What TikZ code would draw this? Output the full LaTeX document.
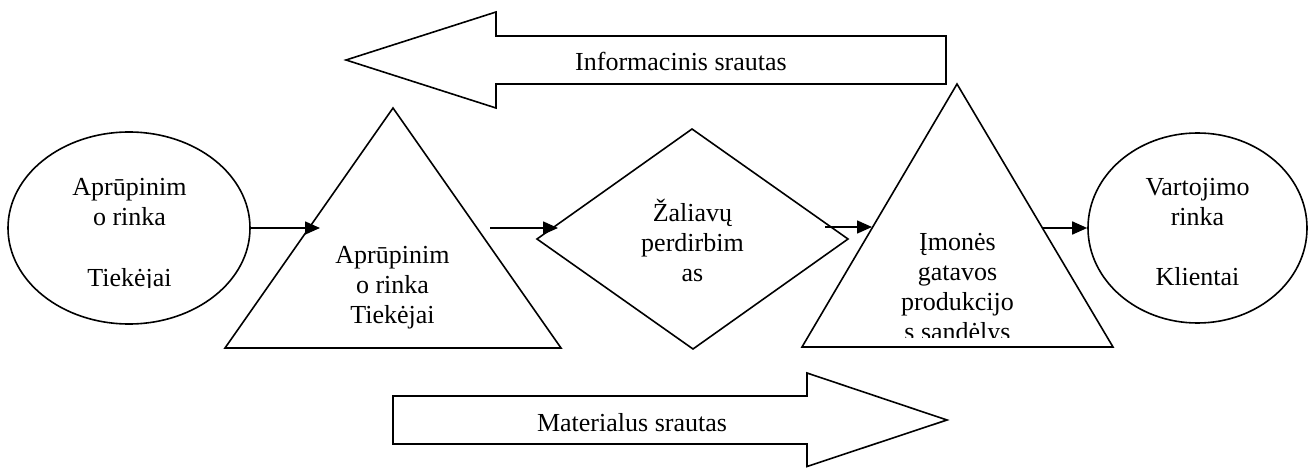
\documentclass[tikz,border=0pt]{standalone}
\usepackage{fontspec}
\setmainfont{Liberation Serif}
\usetikzlibrary{arrows.meta,shapes.geometric}

\begin{document}
\begin{tikzpicture}[x=1pt,y=-1pt,line width=1.6pt,line join=miter,
  lbl/.style={font=\fontsize{26}{30}\selectfont,inner sep=0pt,anchor=base},
  market/.style={draw,ellipse,inner sep=0pt,line width=1.6pt},
  flow/.style={-{Triangle[length=15pt,width=13pt]},line width=1.6pt},
  bigarrow/.style={draw,line width=1.6pt,fill=white}]

\useasboundingbox (0,0) rectangle (1309,468);

% markets at both ends
\node[market,minimum width=242pt,minimum height=192pt] (supply) at (129,228) {};
\node[market,minimum width=219pt,minimum height=190pt] (consume) at (1197.5,228) {};

% supplier triangle
\coordinate (t1l) at (225,348);
\coordinate (t1a) at (393,108);
\coordinate (t1r) at (561,348);
\draw (t1l) -- (t1a) -- (t1r) -- cycle;

% processing diamond
\coordinate (dw) at (537,239);
\coordinate (dn) at (692,129);
\coordinate (de) at (848,239);
\coordinate (ds) at (693,349);
\draw (dw) -- (dn) -- (de) -- (ds) -- cycle;

% warehouse triangle
\coordinate (t2l) at (802,347);
\coordinate (t2a) at (957,84);
\coordinate (t2r) at (1113,347);
\draw (t2l) -- (t2a) -- (t2r) -- cycle;

% information flow (pointing left)
\draw[bigarrow] (346,60) -- (496,12) -- (496,36) -- (946,36) -- (946,84)
  -- (496,84) -- (496,108) -- cycle;
\node[lbl] (info) at (681,71) {Informacinis srautas};

% material flow (pointing right)
\draw[bigarrow] (393,396) -- (807,396) -- (807,373) -- (947,420) -- (807,466.5)
  -- (807,444) -- (393,444) -- cycle;
\node[lbl] (mat) at (632,431) {Materialus srautas};

% labels
\node[lbl] (s1) at (129.5,195) {Aprūpinim};
\node[lbl] (s2) at (129.5,225) {o rinka};
\begin{scope}
  \clip (0,0) rectangle (1309,287.5);
  \node[lbl] (s3) at (129.5,286) {Tiekėjai};
\end{scope}

\node[lbl] (a1) at (392.5,263) {Aprūpinim};
\node[lbl] (a2) at (392.5,293) {o rinka};
\node[lbl] (a3) at (392.5,323) {Tiekėjai};

\node[lbl] (p1) at (692.5,221) {Žaliavų};
\node[lbl] (p2) at (692.5,251) {perdirbim};
\node[lbl] (p3) at (692.5,281) {as};

\node[lbl] (w1) at (957.5,250) {Įmonės};
\node[lbl] (w2) at (957.5,280) {gatavos};
\node[lbl] (w3) at (957.5,310) {produkcijo};
\begin{scope}
  \clip (0,0) rectangle (1309,337);
  \node[lbl] (w4) at (957.5,340) {s sandėlys};
\end{scope}

\node[lbl] (c1) at (1197.5,195) {Vartojimo};
\node[lbl] (c2) at (1197.5,225) {rinka};
\node[lbl] (c3) at (1197.5,285) {Klientai};

% connectors between the stages
\coordinate (e1) at (320,228);
\coordinate (b2) at (490,228);
\coordinate (e2) at (558,228);
\coordinate (b3) at (825,227);
\coordinate (e3) at (872,227);
\coordinate (b4) at (1042,228);
\draw[flow] (supply.east) -- (e1);
\draw[flow] (b2) -- (e2);
\draw[flow] (b3) -- (e3);
\draw[flow] (b4) -- (consume.west);

\end{tikzpicture}
\end{document}
